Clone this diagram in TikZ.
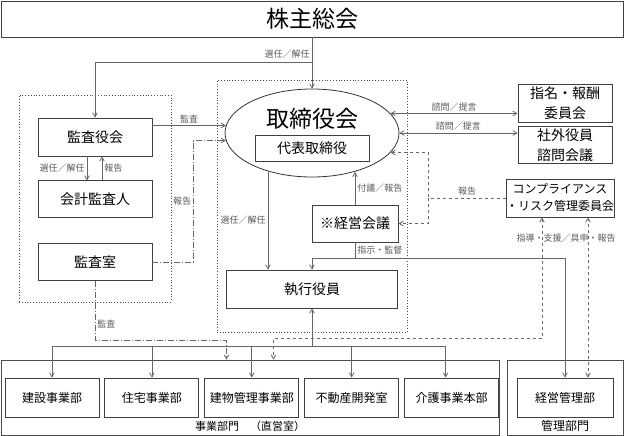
\documentclass[tikz,border=0pt]{standalone}
\usepackage{fontspec}
\setmainfont{Noto Sans CJK JP}
\usetikzlibrary{shapes.geometric, arrows, positioning, fit}
\tikzstyle{unit} = [rectangle, minimum height=38pt, align=center, inner sep=0pt, draw=black!75, line width=0.9pt, font=\fontsize{14}{20}\selectfont]
\tikzstyle{dept} = [rectangle, minimum width=94pt, minimum height=39pt, align=center, inner sep=0pt, draw=black!75, line width=0.9pt, font=\fontsize{12}{14}\selectfont]
\tikzstyle{group} = [rectangle, dotted, inner sep=0pt, draw=black!70, line width=0.8pt]
\tikzstyle{division} = [rectangle, inner sep=0pt, draw=black!70, line width=0.9pt]
\tikzstyle{memo} = [font=\fontsize{9}{10}\selectfont, text=black!65, inner sep=2pt]
\tikzstyle{arrow} = [->, >=angle 60, draw=black!60, line width=0.8pt]
\tikzstyle{auditline} = [dash pattern=on 6pt off 2pt on 1pt off 2pt]

\begin{document}
\begin{tikzpicture}[x=1pt, y=-1pt, node distance=1cm]
\useasboundingbox (0,0) rectangle (624,436);
\node (soukai) [unit, minimum width=622pt, minimum height=36pt, font=\fontsize{23}{26}\selectfont] at (312,19) {株主総会};

% audit side
\node (kansayaku) [unit, minimum width=114pt] at (95,137) {監査役会};
\node (kaikei) [unit, minimum width=114pt, minimum height=37pt, below=24pt of kansayaku] {会計監査人};
\node (kansashitsu) [unit, minimum width=114pt, minimum height=37pt, below=25pt of kaikei] {監査室};
\node (audit) [group, minimum width=152pt, minimum height=207pt] at (95,198.5) {};

% board and execution
\node (board) [ellipse, draw=black!80, line width=0.8pt, minimum width=174pt, minimum height=88pt, inner sep=0pt] at (312,133) {};
\node (boardname) [font=\fontsize{23}{26}\selectfont] at (312,119) {取締役会};
\node (daihyo) [unit, minimum width=114pt, minimum height=26pt] at (312,148) {代表取締役};
\node (keiei) [unit, minimum width=86pt, minimum height=37pt] at (355,223.5) {※経営会議};
\node (shikko) [unit, minimum width=171pt] at (312,289) {執行役員};
\node (exec) [group, minimum width=190pt, minimum height=252pt] at (312,206) {};

% committees
\node (shimei) [unit, minimum width=94pt] at (565,103) {指名・報酬\\委員会};
\node (shagai) [unit, minimum width=94pt, minimum height=37pt, below=4pt of shimei] {社外役員\\諮問会議};
\node (comp) [unit, minimum width=106pt, font=\fontsize{12}{17}\selectfont] at (560,198) {コンプライアンス\\・リスク管理委員会};

% divisions
\node (jigyo) [division, minimum width=498pt, minimum height=75pt] at (250,397.5) {};
\node (kanri) [division, minimum width=116pt, minimum height=75pt] at (565,397.5) {};
\node (kensetsu) [dept] at (52,397.5) {建設事業部};
\node (jutaku) [dept, right=5pt of kensetsu] {住宅事業部};
\node (tatemono) [dept, right=5pt of jutaku] {建物管理事業部};
\node (fudosan) [dept, right=5pt of tatemono] {不動産開発室};
\node (kaigo) [dept, right=5pt of fudosan] {介護事業本部};
\node (keieikanri) [dept, minimum width=96pt] at (565,397.5) {経営管理部};
\node (jigyoname) [font=\fontsize{11}{12}\selectfont] at (250,426) {事業部門　（直営室）};
\node (kanriname) [font=\fontsize{12}{12}\selectfont] at (565,426) {管理部門};

% appointment
\coordinate (split) at (312,62);
\draw [arrow] (soukai.south) -- node[memo, left, pos=0.33] {選任／解任} (board.north);
\draw [arrow] (split) -| (kansayaku.north);

\draw [arrow] ([xshift=-8pt]kansayaku.south) -- node[memo, left] {選任／解任} ([xshift=-8pt]kaikei.north);
\draw [arrow] ([xshift=7pt]kaikei.north) -- node[memo, right] {報告} ([xshift=7pt]kansayaku.south);
\draw [arrow] (kansayaku.east |- board.175) -- node[memo, above] {監査} (board.175);
\draw [arrow, auditline] (kansashitsu.east) -- ++(41,0) |- node[memo, left, pos=0.25] {報告} (board.185);
\draw [arrow, auditline] (kansashitsu.south) -- node[memo, right, pos=0.72] {監査} ++(0,59) -| ([xshift=-23.5pt]jigyo.north);

\draw [arrow] (board.221) -- node[memo, left] {選任／解任} (board.221 |- shikko.north);
\draw [arrow] (keiei.north) -- node[memo, right] {付議／報告} (keiei.north |- board.317);
\draw [arrow] (keiei.south) -- node[memo, right] {指示・監督} ++(0,16) -| (shikko.north);
\draw [arrow] (keiei.south) -- ++(0,16) -| (keieikanri.north);

% advisory
\draw [arrow, <->] (board.14) -- node[memo, above] {諮問／提言} (board.14 -| shimei.west);
\draw [arrow, <->] (board.east) -- node[memo, above] {諮問／提言} (board.east -| shagai.west);

% compliance
\draw [arrow, dashed] (comp.west) -- node[memo, above] {報告} ++(-77,0) |- (board.346);
\draw [arrow, dashed] ([xshift=-77pt]comp.west) |- (keiei.east);
\draw [arrow, <->, dashed] ([xshift=-18pt]comp.south) -- ++(0,121) -| ([xshift=23.5pt]jigyo.north);
\draw [arrow, <->, dashed] ([xshift=23pt]keieikanri.north) -- ([xshift=23pt]keieikanri.north |- comp.south);
\node (advice) [memo] at (566,238) {指導・支援／具申・報告};

% departments
\coordinate (bus) at (312,346);
\coordinate (kaigoin) at ([xshift=-6pt]kaigo.north);
\draw [arrow] (bus) -- (shikko.south);
\draw [draw=black!60, line width=0.8pt] (kensetsu.north |- bus) -- (kaigoin |- bus);
\foreach \n in {kensetsu, jutaku, tatemono, fudosan}
  \draw [arrow] (\n.north |- bus) -- (\n.north);
\draw [arrow] (kaigoin |- bus) -- (kaigoin);
\end{tikzpicture}
\end{document}
